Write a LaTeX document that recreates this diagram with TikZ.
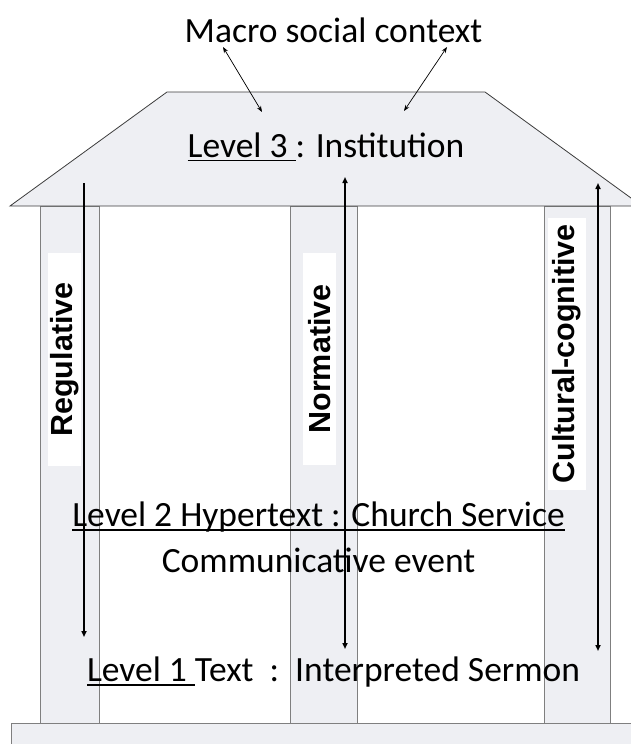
\documentclass[tikz,border=0pt]{standalone}
\usepackage{fontspec}
\setmainfont{Carlito}
\newfontfamily\pillarfont{Liberation Sans}
\usetikzlibrary{arrows.meta}

\definecolor{roofgray}{HTML}{EEEFF3}
\definecolor{edgegray}{HTML}{3C3C3C}
\definecolor{seamgray}{HTML}{7F7F7F}

% underline at a fixed depth, so it runs through the descenders
\newcommand{\ulevel}[1]{\setbox0\hbox{#1}\rlap{\rule[-0.12em]{\wd0}{0.055em}}\box0}

\tikzset{
  roof/.style={fill=roofgray, draw=edgegray, line width=0.8pt},
  column/.style={fill=roofgray, draw=seamgray, line width=0.8pt},
  big/.style={font=\fontsize{35.5}{40}\selectfont, inner sep=0pt},
  pillarlabel/.style={fill=white, rotate=90, inner sep=0pt,
    font=\pillarfont\bfseries\fontsize{30.5}{34}\selectfont},
  force/.style={line width=2.1pt},
  link/.style={line width=0.7pt, {Stealth[length=6pt,width=4.5pt]}-{Stealth[length=6pt,width=4.5pt]}}
}

\begin{document}
\begin{tikzpicture}[x=1pt,y=-1pt,>={Triangle[length=6pt,width=5pt]}]
\useasboundingbox (0,0) rectangle (631,744);
\clip (0,0) rectangle (631,744);

% base and columns
\draw[column] (11,723) rectangle (645,760);
\draw[column] (40,206) rectangle (99,723);
\draw[column] (290,206) rectangle (357,723);
\draw[column] (544,206) rectangle (610,723);

% roof
\draw[roof] (167,92) -- (485,92) -- (642,206) -- (10,206) -- cycle;

% labels on the columns
\node[pillarlabel, minimum width=213pt, minimum height=33pt] (reg) at (64.5,359.5) {Regulative};
\node[pillarlabel, minimum width=212pt, minimum height=33pt] (norm) at (319.5,359) {Normative};
\node[pillarlabel, minimum width=272pt, minimum height=38pt] (cult) at (567,354) {Cultural-cognitive};

% texts
\node[big] (macro) at (333.5,30) {Macro social context};
\node[big] (lvlthree) at (326,147) {\ulevel{Level 3\ }: Institution};
\node[big] (lvltwo) at (318.5,517) {\ulevel{Level 2 Hypertext : Church Service}};
\node[big] (event) at (318.5,560) {Communicative event};
\node[big] (lvlone) at (333.5,672) {\ulevel{Level 1\ }Text\ \ :\ \ Interpreted Sermon};

% arrows between the context and the roof
\coordinate (macroL) at (223,47);
\coordinate (roofL) at (262,112);
\coordinate (macroR) at (447,47);
\coordinate (roofR) at (404,111);
\draw[link] (macroL) -- (roofL);
\draw[link] (macroR) -- (roofR);

% arrows along the columns
\coordinate (regtop) at (84,183);
\coordinate (regbot) at (84,637);
\coordinate (normtop) at (345,177);
\coordinate (normbot) at (345,649);
\coordinate (culttop) at (598,183);
\coordinate (cultbot) at (598,651);
\draw[force,->] (regtop) -- (regbot);
\draw[force,<->] (normtop) -- (normbot);
\draw[force,<->] (culttop) -- (cultbot);

\end{tikzpicture}
\end{document}
